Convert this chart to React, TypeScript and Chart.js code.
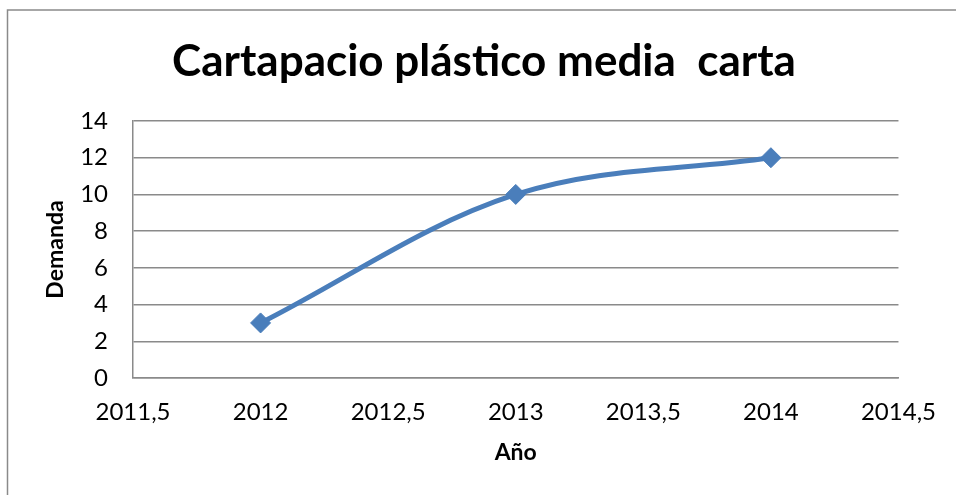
import React, { useEffect, useRef } from "react";
import { Chart, registerables } from "chart.js";

Chart.register(...registerables);

const chartTitle = "Cartapacio plástico media  carta";
const xTitle = "Año";
const yTitle = "Demanda";
const years = [2012, 2013, 2014];
const demanda = [3, 10, 12];
const xMin = 2011.5;
const xMax = 2014.5;
const xStep = 0.5;
const yMin = 0;
const yMax = 14;
const yStep = 2;

const FONT = "Lato, 'Open Sans', sans-serif";

const framePlugin = {
  id: "frame",
  beforeDraw(chart: any) {
    const ctx = chart.ctx;
    ctx.save();
    ctx.fillStyle = "#ffffff";
    ctx.fillRect(0, 0, chart.width, chart.height);
    ctx.strokeStyle = "#8a8a8a";
    ctx.lineWidth = 1.5;
    ctx.strokeRect(7.5, 10, chart.width + 20, chart.height + 20);
    ctx.restore();
  },
  afterDraw(chart: any) {
    const ctx = chart.ctx;
    ctx.save();
    ctx.fillStyle = "#000000";
    ctx.font = `bold 44px ${FONT}`;
    ctx.textAlign = "center";
    ctx.textBaseline = "middle";
    ctx.fillText(chartTitle, 484, 62);
    ctx.restore();
  },
};

export default function App() {
  const ref = useRef<HTMLCanvasElement | null>(null);

  useEffect(() => {
    document.body.style.margin = "0";
    if (!ref.current) return;
    const points = years.map((y, i) => ({ x: y, y: demanda[i] }));
    const chart = new Chart(ref.current, {
      type: "line",
      data: {
        datasets: [
          {
            label: "Demanda",
            data: points,
            borderColor: "#4a7ebb",
            backgroundColor: "#4a7ebb",
            borderWidth: 5,
            tension: 0.35,
            pointStyle: "rectRot",
            pointRadius: 10,
            pointBorderWidth: 1,
            pointBorderColor: "#4a7ebb",
            pointBackgroundColor: "#4a7ebb",
          },
        ],
      },
      plugins: [framePlugin],
      options: {
        animation: false,
        responsive: false,
        maintainAspectRatio: false,
        layout: { padding: { left: 8, top: 121, right: 55, bottom: 0 } },
        plugins: {
          legend: { display: false },
          title: { display: false },
          tooltip: { enabled: false },
        },
        scales: {
          x: {
            type: "linear",
            min: xMin,
            max: xMax,
            afterFit: (s: any) => {
              s.height = 117;
            },
            ticks: {
              stepSize: xStep,
              color: "#000",
              padding: 20,
              font: { family: FONT, size: 24 },
              callback: (v: any) => String(v).replace(".", ","),
            },
            grid: { display: false, drawTicks: false },
            border: { display: true, color: "#8a8a8a", width: 1.5 },
            title: {
              display: true,
              text: xTitle,
              color: "#000",
              font: { family: FONT, size: 23, weight: "bold" },
              padding: { top: 0, bottom: 29 },
            },
          },
          y: {
            min: yMin,
            max: yMax,
            afterFit: (s: any) => {
              s.width = 125;
            },
            ticks: {
              stepSize: yStep,
              color: "#000",
              padding: 25,
              font: { family: FONT, size: 24 },
            },
            grid: { color: "#8a8a8a", lineWidth: 1.5, drawTicks: false },
            border: { display: true, color: "#8a8a8a", width: 1.5 },
            title: {
              display: true,
              text: yTitle,
              color: "#000",
              font: { family: FONT, size: 23, weight: "bold" },
              padding: { top: 34, bottom: 0 },
            },
          },
        },
      },
    } as any);
    return () => chart.destroy();
  }, []);

  return (
    <div style={{ position: "absolute", left: 0, top: 0, width: 956, height: 495 }}>
      <canvas ref={ref} width={956} height={495} style={{ display: "block" }} />
    </div>
  );
}
